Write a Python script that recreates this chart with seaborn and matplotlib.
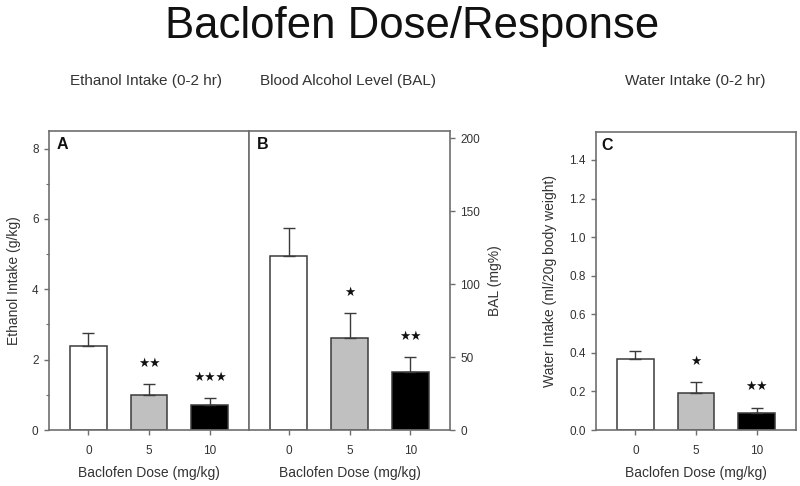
"""
Baclofen dose/response: ethanol intake, blood alcohol level and water intake.
"""

import numpy as np
import pandas as pd
import matplotlib
matplotlib.use("Agg")
import matplotlib.pyplot as plt
from matplotlib.ticker import MultipleLocator, FormatStrFormatter
import seaborn as sns

# values (mean and SEM per dose)
doses = ["0", "5", "10"]
ethanol_mean = [2.40, 1.00, 0.70]
ethanol_sem = [0.35, 0.31, 0.20]
ethanol_stars = ["", "**", "***"]

bal_mean = [119.0, 63.0, 39.5]
bal_sem = [19.5, 17.0, 10.5]
bal_stars = ["", "*", "**"]

water_mean = [0.366, 0.193, 0.090]
water_sem = [0.045, 0.054, 0.026]
water_stars = ["", "*", "**"]

bar_colors = ["#ffffff", "#c0c0c0", "#000000"]

sns.set_theme(style="ticks")
plt.rcParams["font.family"] = ["Liberation Sans", "DejaVu Sans"]

SPINE = "#6e6e6e"
TEXT = "#333333"


def draw_panel(ax, means, sems, stars, letter, ylim, ylabel, yticks):
    df = pd.DataFrame({"dose": doses, "value": means})
    sns.barplot(data=df, x="dose", y="value", hue="dose", order=doses,
                palette=bar_colors, legend=False, width=0.61, saturation=1,
                edgecolor="#3a3a3a", linewidth=1.1, ax=ax)
    xs = [p.get_x() + p.get_width() / 2 for p in ax.patches]
    ax.errorbar(xs, means, yerr=[np.zeros(len(means)), sems], fmt="none",
                ecolor="#3a3a3a", elinewidth=1.0, capsize=4, capthick=1.0)
    # significance marks drawn as filled stars
    for x, m, s, st in zip(xs, means, sems, stars):
        if st:
            ax.annotate(st.replace("*", "\u2605"),
                        xy=(x, m + s), xytext=(0, 15), textcoords="offset points",
                        ha="center", va="center", fontsize=9, color="#111111",
                        family=["DejaVu Sans"])
    ax.set_xlim(-0.65, 2.65)
    ax.set_ylim(*ylim)
    ax.set_yticks(yticks)
    ax.set_ylabel(ylabel, fontsize=10, color=TEXT)
    ax.set_xlabel("Baclofen Dose (mg/kg)", fontsize=10, color=TEXT)
    ax.xaxis.set_label_coords(0.5, -0.12)
    for sp in ax.spines.values():
        sp.set_color(SPINE)
        sp.set_linewidth(1.2)
    ax.tick_params(axis="both", labelsize=8.5, labelcolor=TEXT, color=SPINE,
                   length=3.5, width=1.0, pad=4)
    ax.tick_params(axis="x", pad=7)
    ax.tick_params(axis="y", which="minor", length=2, width=0.8, color=SPINE)
    ax.text(0.04, 0.94, letter, transform=ax.transAxes, fontsize=11.5,
            fontweight="bold", color="#111111", va="baseline", ha="left")


fig = plt.figure(figsize=(8.0, 4.86), dpi=100)

ax_a = fig.add_axes([0.06125, 0.1152, 0.25, 0.6152])
ax_b = fig.add_axes([0.31125, 0.1152, 0.25125, 0.6152])
ax_c = fig.add_axes([0.745, 0.1152, 0.25, 0.6132])

draw_panel(ax_a, ethanol_mean, ethanol_sem, ethanol_stars, "A", (0, 8.5),
           "Ethanol Intake (g/kg)", [0, 2, 4, 6, 8])
ax_a.yaxis.set_minor_locator(MultipleLocator(1))
ax_a.yaxis.set_label_coords(-0.14, 0.5)

draw_panel(ax_b, bal_mean, bal_sem, bal_stars, "B", (0, 205),
           "BAL (mg%)", [0, 50, 100, 150, 200])
ax_b.yaxis.tick_right()
ax_b.yaxis.set_label_position("right")
ax_b.yaxis.set_label_coords(1.19, 0.5)

draw_panel(ax_c, water_mean, water_sem, water_stars, "C", (0, 1.545),
           "Water Intake (ml/20g body weight)",
           [0.0, 0.2, 0.4, 0.6, 0.8, 1.0, 1.2, 1.4])
ax_c.yaxis.set_major_formatter(FormatStrFormatter("%.1f"))
ax_c.yaxis.set_label_coords(-0.195, 0.5)
ax_c.texts[-1].set_x(0.025)

fig.text(0.515, 1 - 38 / 486, "Baclofen Dose/Response", fontsize=31.5,
         ha="center", va="baseline", color="#111111")
fig.text(0.183, 0.825, "Ethanol Intake (0-2 hr)", fontsize=11,
         ha="center", va="baseline", color=TEXT)
fig.text(0.435, 0.825, "Blood Alcohol Level (BAL)", fontsize=11,
         ha="center", va="baseline", color=TEXT)
fig.text(0.869, 0.825, "Water Intake (0-2 hr)", fontsize=11,
         ha="center", va="baseline", color=TEXT)

fig.savefig("out.png", dpi=100)
plt.close(fig)
